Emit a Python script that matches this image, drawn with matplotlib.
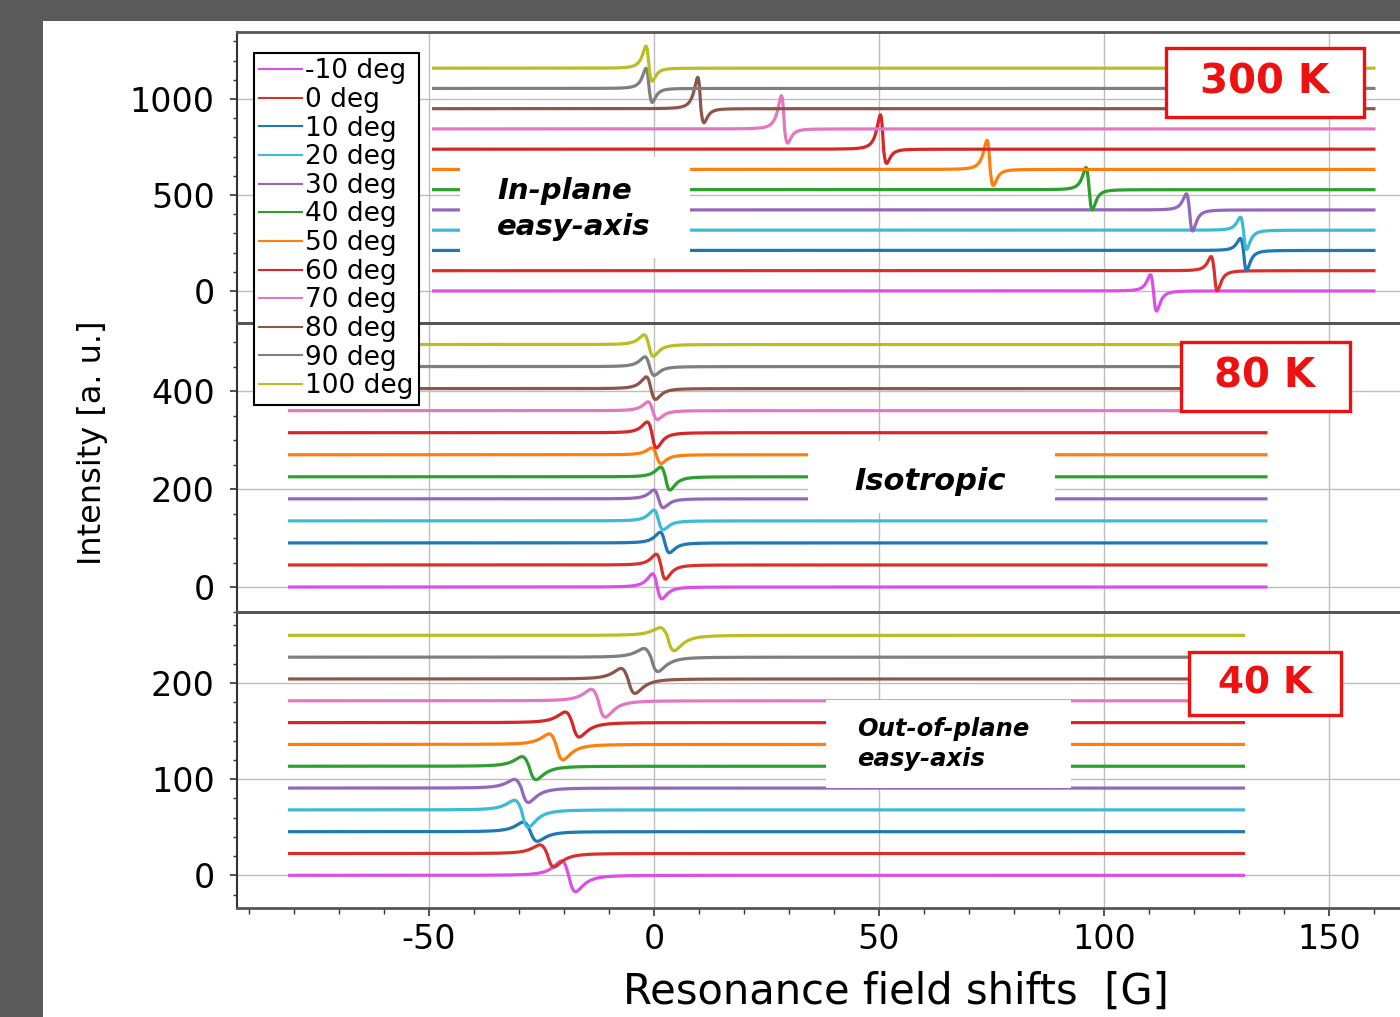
import numpy as np
import matplotlib.pyplot as plt
from matplotlib.patches import Rectangle
from matplotlib.ticker import MultipleLocator

plt.rcParams['font.family'] = 'DejaVu Sans'
plt.rcParams['axes.unicode_minus'] = False

angles = [-10, 0, 10, 20, 30, 40, 50, 60, 70, 80, 90, 100]
labels = ['%d deg' % a for a in angles]
colors = ['#dc4fe6', '#d8302c', '#1f77b4', '#3cbad6', '#9467bd', '#2ca02c',
          '#ff7f0e', '#d62728', '#e377c2', '#8c564b', '#7f7f7f', '#bcbd22']

# 300 K : resonance centre [G], upper lobe / lower lobe height [a.u.]
center_300 = [111, 124.5, 131, 131, 119, 96.7, 74.7, 51, 29, 10.4, -1.1, -1.1]
up_300 = [84, 74, 63, 68, 84, 116, 152, 179, 173, 163, 105, 115]
down_300 = [105, 105, 105, 100, 110, 105, 84, 74, 74, 73, 73, 68]

# 80 K
center_80 = [0.7, 1.5, 2.4, 1.0, 1.0, 2.5, 0.5, -0.5, -0.3, -0.7, -1.0, -1.2]
up_80 = [27, 22, 22, 22, 18, 20, 14, 22, 18, 24, 20, 20]
down_80 = [24, 29, 20, 18, 18, 27, 18, 31, 18, 22, 18, 24]

# 40 K
center_40 = [-19, -23.8, -27.5, -29.5, -29.5, -27.8, -21.8, -18.2, -12.4, -5.8, -0.7, 2.9]
up_40 = [15, 9, 10, 10, 9, 10, 11, 11, 12, 11, 9, 8]
down_40 = [17, 14, 10, 18, 15, 14, 16, 15, 17, 15, 15, 16]

# offset between stacked spectra, line width [G], field range [G]
panels = [
    dict(center=center_300, up=up_300, down=down_300, step=105.5, w=1.2,
         xr=(-49, 160), ylim=(-167, 1349), major=500, minor=100, temp='300 K'),
    dict(center=center_80, up=up_80, down=down_80, step=45, w=1.8,
         xr=(-81, 136), ylim=(-51, 539), major=200, minor=50, temp='80 K'),
    dict(center=center_40, up=up_40, down=down_40, step=22.7, w=2.7,
         xr=(-81, 131), ylim=(-34, 274), major=100, minor=20, temp='40 K'),
]


def lineshape(x, x0, w, up, down):
    # first-derivative Lorentzian, lobes scaled separately
    u = (x - x0) / w
    f = -u / (1 + u ** 2) ** 2 / 0.3248
    return np.where(u < 0, up * f, down * f)


W, H = 1400, 1017
fig = plt.figure(figsize=(14, 10.17), dpi=100, facecolor='#5a5a5a')


def px(x0, y0, x1, y1):
    return x0 / W, 1 - y1 / H, (x1 - x0) / W, (y1 - y0) / H


bg = Rectangle((43 / W, 0), 1 - 43 / W, 1 - 21 / H, transform=fig.transFigure,
               facecolor='white', edgecolor='none', zorder=-10)
fig.add_artist(bg)

# panel extents in pixels (top, bottom)
rows = [(32, 323), (323, 612), (612, 908)]
axes = []
for i, (p, (t, b)) in enumerate(zip(panels, rows)):
    ax = fig.add_axes(px(237, t, W, b), sharex=axes[0] if axes else None)
    ax.set_facecolor('none')
    x = np.linspace(p['xr'][0], p['xr'][1], 4000)
    for k in range(len(angles)):
        y = k * p['step'] + lineshape(x, p['center'][k], p['w'], p['up'][k], p['down'][k])
        ax.plot(x, y, color=colors[k], lw=2.3, label=labels[k], zorder=3)
    ax.set_ylim(*p['ylim'])
    ax.yaxis.set_major_locator(MultipleLocator(p['major']))
    ax.yaxis.set_minor_locator(MultipleLocator(p['minor']))
    ax.grid(True, which='major', color='#bdbdbd', lw=1.0, zorder=0)
    ax.set_axisbelow(True)
    ax.spines['right'].set_visible(False)
    for s in ['top', 'bottom']:
        ax.spines[s].set_color('#555555')
        ax.spines[s].set_linewidth(2.0)
    ax.spines['left'].set_color('#333333')
    ax.spines['left'].set_linewidth(1.5)
    ax.tick_params(axis='y', which='major', direction='out', length=5, width=1.2,
                   labelsize=24, pad=11, colors='#333333', labelcolor='black')
    ax.tick_params(axis='y', which='minor', direction='out', length=3, width=1.0,
                   colors='#333333')
    if i < 2:
        ax.tick_params(axis='x', which='both', bottom=False, labelbottom=False)
    axes.append(ax)

axb = axes[-1]
axb.set_xlim(-92.7, 165.8)
axb.xaxis.set_major_locator(MultipleLocator(50))
axb.xaxis.set_minor_locator(MultipleLocator(10))
axb.tick_params(axis='x', which='major', direction='out', length=6, width=1.2,
                labelsize=24, pad=5, colors='#333333', labelcolor='black')
axb.tick_params(axis='x', which='minor', direction='out', length=4, width=1.0,
                colors='#333333')

fig.text(93 / W, 1 - 443 / H, 'Intensity [a. u.]', rotation=90, fontsize=23,
         ha='center', va='center')
fig.text(896 / W, 1 - 992 / H, 'Resonance field shifts  [G]', fontsize=30,
         ha='center', va='center')

# white label boxes over the spectra
notes = [
    ((460, 157, 690, 258), 497, 209, 'In-plane\neasy-axis', 21),
    ((808, 441, 1055, 513), 930, 482, 'Isotropic', 22),
    ((826, 700, 1071, 788), 857, 744, 'Out-of-plane\neasy-axis', 17.5),
]
for box, tx, ty, txt, fs in notes:
    fig.add_artist(Rectangle(px(*box)[:2], *px(*box)[2:], transform=fig.transFigure,
                             facecolor='white', edgecolor='none', zorder=5))
    fig.text(tx / W, 1 - ty / H, txt, fontsize=fs, fontweight='bold', style='italic',
             ha='center' if txt == 'Isotropic' else 'left', va='center',
             linespacing=1.35, zorder=6)

temps = [
    ((1166, 48, 1364, 117), 1265, 83, 29),
    ((1181, 342, 1350, 411), 1265, 377, 29),
    ((1189, 652, 1341, 715), 1265, 684, 27),
]
for p, (box, tx, ty, fs) in zip(panels, temps):
    fig.add_artist(Rectangle(px(*box)[:2], *px(*box)[2:], transform=fig.transFigure,
                             facecolor='white', edgecolor='#ee1111', lw=2.4, zorder=5))
    fig.text(tx / W, 1 - ty / H, p['temp'], fontsize=fs, fontweight='bold',
             color='#ee1111', ha='center', va='center', zorder=6)

handles, _ = axes[0].get_legend_handles_labels()
leg = fig.legend(handles, labels, loc='upper left',
                 bbox_to_anchor=(254 / W, 1 - 53 / H), borderaxespad=0,
                 fontsize=19, labelspacing=0.1, handlelength=1.6,
                 handletextpad=0.15, borderpad=0.2, fancybox=False,
                 framealpha=1, edgecolor='black')
leg.get_frame().set_linewidth(1.5)
for l in leg.get_lines():
    l.set_linewidth(1.5)
leg.set_zorder(7)

fig.savefig('out.png', dpi=100, facecolor=fig.get_facecolor())
